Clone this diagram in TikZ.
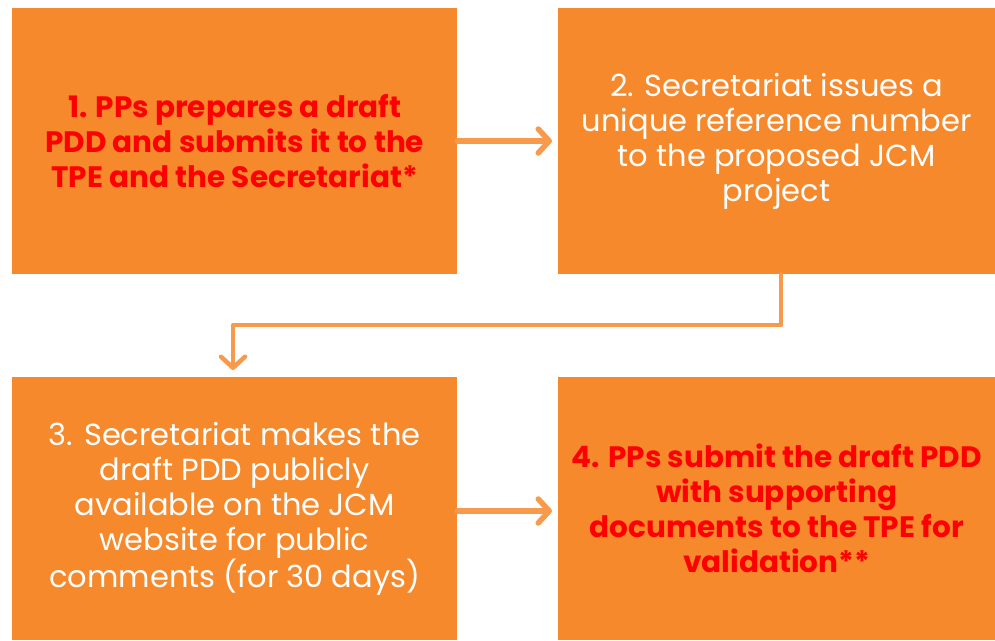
\documentclass[tikz,border=0pt]{standalone}
\usepackage{fontspec}
\setmainfont{Poppins}
\usetikzlibrary{arrows.meta}
\definecolor{boxor}{RGB}{245,137,43}
\definecolor{arror}{RGB}{248,154,76}
\definecolor{redtxt}{RGB}{255,0,0}
\tikzset{
  stepbox/.style={fill=boxor, draw=none, rectangle, anchor=north west, inner sep=0pt, align=center},
  whitetxt/.style={text=white, font=\fontsize{30.5}{35}\selectfont},
  redbold/.style={text=redtxt, font=\fontsize{29.5}{35}\selectfont\bfseries},
  flow/.style={draw=arror, line width=5.5pt, line cap=round, line join=round,
     -{Straight Barb[length=11pt, width=24pt, round]}},
}
\begin{document}
\begin{tikzpicture}[x=1pt,y=-1pt]
\useasboundingbox (0,0) rectangle (995,640);
\node[stepbox, redbold, minimum width=445pt, minimum height=266pt] (b1) at (12,8)
  {1. PPs prepares a draft\\PDD and submits it to the\\TPE and the Secretariat*};
\node[stepbox, whitetxt, minimum width=437pt, minimum height=266pt] (b2) at (558,8)
  {2. Secretariat issues a\\unique reference number\\to the proposed JCM\\project};
\node[stepbox, whitetxt, minimum width=445pt, minimum height=263pt] (b3) at (12,377)
  {3. Secretariat makes the\\draft PDD publicly\\available on the JCM\\website for public\\comments (for 30 days)};
\node[stepbox, redbold, minimum width=437pt, minimum height=263pt] (b4) at (558,377)
  {4. PPs submit the draft PDD\\with supporting\\documents to the TPE for\\validation**};
\coordinate (c1) at (781,325);
\coordinate (c2) at (233,325);
\coordinate (c3) at (233,370);
\draw[flow, shorten >=6pt] (b1.east |- 0,141) -- (b2.west |- 0,141);
\draw[flow, line width=4.5pt] (b2.south -| c1) -- (c1) -- (c2) -- (c3);
\draw[flow, shorten >=6pt] (b3.east |- 0,511) -- (b4.west |- 0,511);
\end{tikzpicture}
\end{document}
